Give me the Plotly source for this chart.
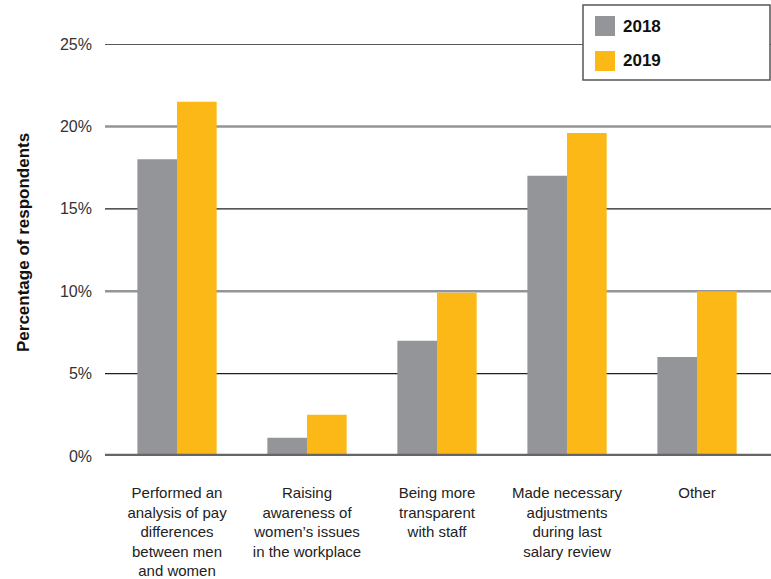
import plotly.graph_objects as go

# Survey data: share of respondents taking each action
categories = [
    "Performed an<br>analysis of pay<br>differences<br>between men<br>and women",
    "Raising<br>awareness of<br>women\u2019s issues<br>in the workplace",
    "Being more<br>transparent<br>with staff",
    "Made necessary<br>adjustments<br>during last<br>salary review",
    "Other",
]
values_2018 = [18.0, 1.1, 7.0, 17.0, 6.0]
values_2019 = [21.5, 2.5, 9.9, 19.6, 10.0]
series_names = ["2018", "2019"]
y_ticks = [0, 5, 10, 15, 20, 25]
y_tick_labels = ["0%", "5%", "10%", "15%", "20%", "25%"]

GREY = "#939598"
GOLD = "#FBB817"
W, H = 771, 579
ML, MR, MT, MB = 105, 0, 44, 123

SANS = "Liberation Sans, Arial, Helvetica, sans-serif"

fig = go.Figure()
fig.add_trace(go.Bar(x=categories, y=values_2018, name=series_names[0],
                     marker=dict(color=GREY, line=dict(width=0))))
fig.add_trace(go.Bar(x=categories, y=values_2019, name=series_names[1],
                     marker=dict(color=GOLD, line=dict(width=0))))

pw = W - ML - MR
ph = H - MT - MB


def px_x(p):
    return (p - ML) / pw


def px_y(p):
    return (H - MB - p) / ph


shapes = []
# horizontal rules: alternating thin dark and thicker grey
for v in y_ticks[1:]:
    dark = (v // 5) % 2 == 1
    shapes.append(dict(type="line", xref="paper", yref="y", x0=0, x1=1, y0=v, y1=v,
                       line=dict(color="#231F20" if dark else GREY,
                                 width=1.3 if dark else 2.5),
                       layer="below"))
# baseline
shapes.append(dict(type="line", xref="paper", yref="y", x0=0, x1=1, y0=0, y1=0,
                   line=dict(color="#666666", width=4.5), layer="above"))

# legend box
shapes.append(dict(type="rect", xref="paper", yref="paper",
                   x0=px_x(583), x1=px_x(770), y0=px_y(80), y1=px_y(5),
                   line=dict(color="#555555", width=1.5), fillcolor="white", layer="above"))
annotations = []
for i, (name, col) in enumerate(zip(series_names, [GREY, GOLD])):
    top = 16 + i * 35
    shapes.append(dict(type="rect", xref="paper", yref="paper",
                       x0=px_x(595), x1=px_x(615), y0=px_y(top + 20), y1=px_y(top),
                       line=dict(width=0), fillcolor=col, layer="above"))
    annotations.append(dict(xref="paper", yref="paper", x=px_x(621), y=px_y(top + 10),
                            text="<b>%s</b>" % name, showarrow=False, xanchor="left",
                            yanchor="middle",
                            font=dict(family=SANS, size=17, color="#111111")))

# y-axis title
annotations.append(dict(xref="paper", yref="paper", x=px_x(23), y=px_y(243),
                        text="<b>Percentage of respondents</b>", textangle=-90,
                        showarrow=False, xanchor="center", yanchor="middle",
                        font=dict(family=SANS, size=17, color="#111111")))

fig.update_layout(
    width=W, height=H,
    margin=dict(l=ML, r=MR, t=MT, b=MB),
    paper_bgcolor="white", plot_bgcolor="white",
    barmode="group", bargap=0.39, bargroupgap=0,
    showlegend=False,
    shapes=shapes, annotations=annotations,
    xaxis=dict(range=[-0.554, 4.569], showgrid=False, zeroline=False, showline=False,
               ticks="", ticklabelstandoff=26,
               tickfont=dict(family=SANS, size=15, color="#222222")),
    yaxis=dict(range=[0, 25], tickvals=y_ticks, ticktext=y_tick_labels,
               showgrid=False, zeroline=False, showline=False, ticks="",
               ticklabelstandoff=12,
               tickfont=dict(family=SANS, size=16, color="#333333")),
)

fig.write_html("out.html")
